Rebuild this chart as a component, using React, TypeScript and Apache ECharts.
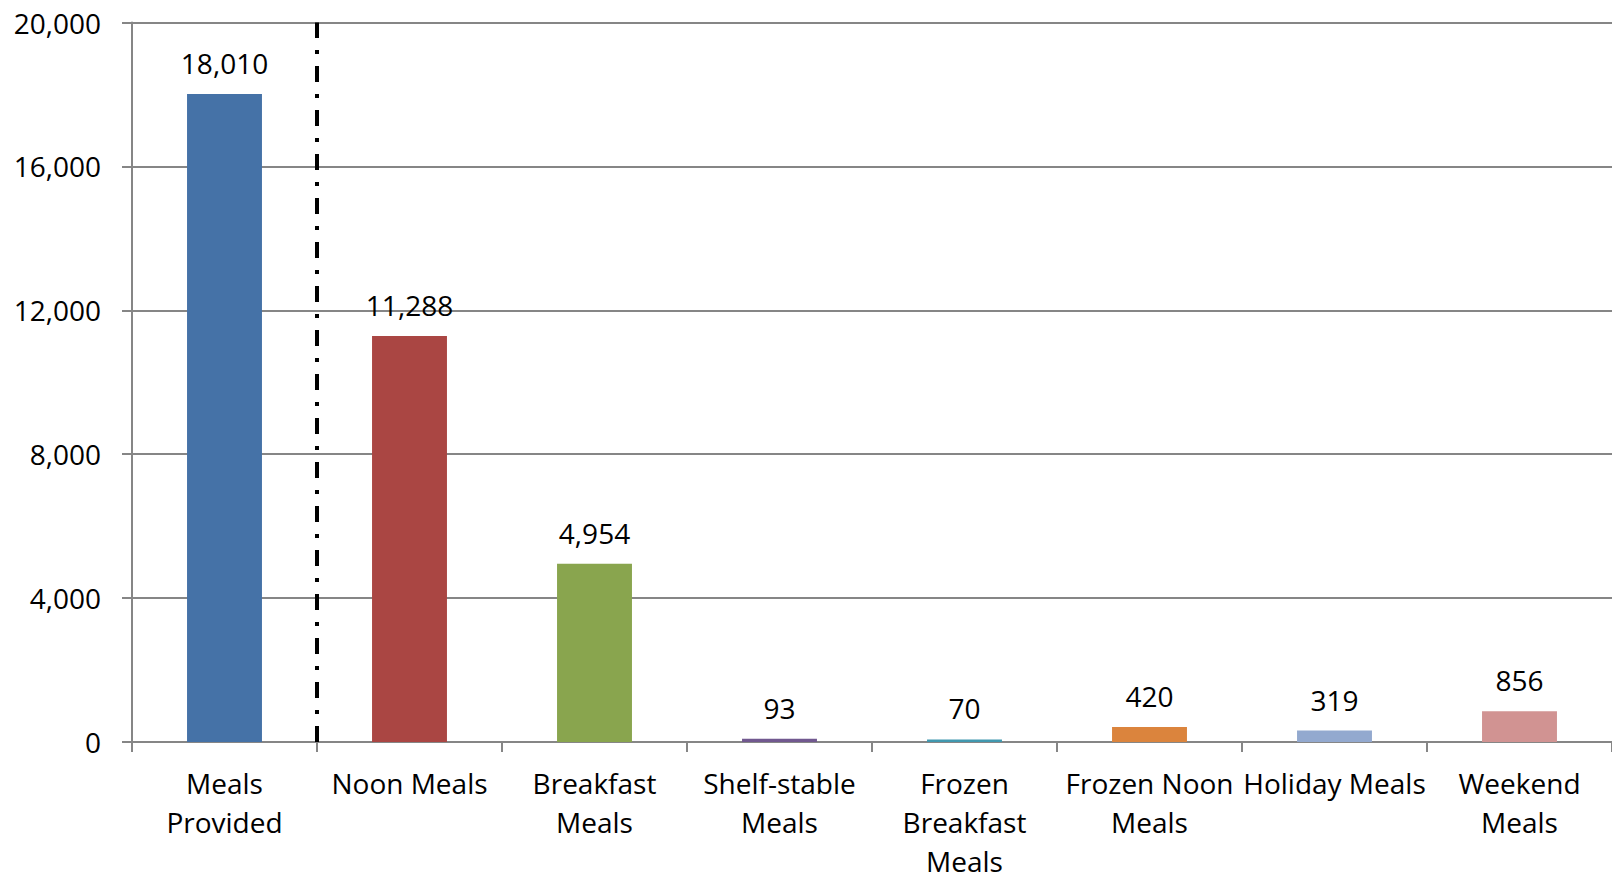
import React, { useEffect, useRef } from "react";
import * as echarts from "echarts";

const categories = [
  "Meals\nProvided",
  "Noon Meals",
  "Breakfast\nMeals",
  "Shelf-stable\nMeals",
  "Frozen\nBreakfast\nMeals",
  "Frozen Noon\nMeals",
  "Holiday Meals",
  "Weekend\nMeals",
];
const mealCounts = [18010, 11288, 4954, 93, 70, 420, 319, 856];
const barColors = [
  "#4572A7",
  "#AA4643",
  "#89A54E",
  "#71588F",
  "#4198AF",
  "#DB843D",
  "#93A9CF",
  "#D19392",
];
// Divider between the total and its breakdown, in category-slot units
const dividerX = [1, 1];
const dividerY = [0, 20000];

const FONT = "'Open Sans', 'Noto Sans', sans-serif";

export default function App() {
  const ref = useRef<HTMLDivElement>(null);

  useEffect(() => {
    if (!ref.current) return;
    const chart = echarts.init(ref.current, undefined, { renderer: "svg" });
    const fmt = (v: number) => v.toLocaleString("en-US");
    chart.setOption({
      animation: false,
      backgroundColor: "#ffffff",
      grid: { left: 132, right: 0, top: 22.5, bottom: 134, containLabel: false },
      xAxis: [
        {
          type: "category",
          data: categories,
          boundaryGap: true,
          axisLine: { show: true, lineStyle: { color: "#868686", width: 2 } },
          axisTick: {
            show: true,
            alignWithLabel: false,
            length: 10,
            lineStyle: { color: "#868686", width: 2 },
          },
          axisLabel: {
            color: "#000000",
            fontFamily: FONT,
            fontSize: 28,
            lineHeight: 39,
            margin: 21,
            interval: 0,
          },
          splitLine: { show: false },
        },
        {
          type: "value",
          min: 0,
          max: 8,
          show: false,
          position: "bottom",
        },
      ],
      yAxis: {
        type: "value",
        min: 0,
        max: 20000,
        interval: 4000,
        axisLine: { show: true, lineStyle: { color: "#868686", width: 2 } },
        axisTick: { show: true, length: 10, lineStyle: { color: "#868686", width: 2 } },
        axisLabel: {
          color: "#000000",
          fontFamily: FONT,
          fontSize: 28,
          margin: 31,
          formatter: (v: number) => fmt(v),
        },
        splitLine: { show: true, lineStyle: { color: "#868686", width: 2 } },
      },
      series: [
        {
          type: "bar",
          xAxisIndex: 0,
          barCategoryGap: "59.5%",
          data: mealCounts.map((v, i) => ({
            value: v,
            itemStyle: { color: barColors[i] },
          })),
          label: {
            show: true,
            position: "top",
            distance: 17,
            color: "#000000",
            fontFamily: FONT,
            fontSize: 28,
            formatter: (p: any) => fmt(p.value),
          },
        },
        {
          type: "line",
          xAxisIndex: 1,
          symbol: "none",
          silent: true,
          data: dividerX.map((x, i) => [x, dividerY[i]]),
          lineStyle: { color: "#000000", width: 4, type: [16, 12, 4, 12] },
          z: 5,
        },
      ],
    });
    return () => chart.dispose();
  }, []);

  return (
    <div
      ref={ref}
      style={{ position: "fixed", left: 0, top: 0, width: 1612, height: 880 }}
    />
  );
}
